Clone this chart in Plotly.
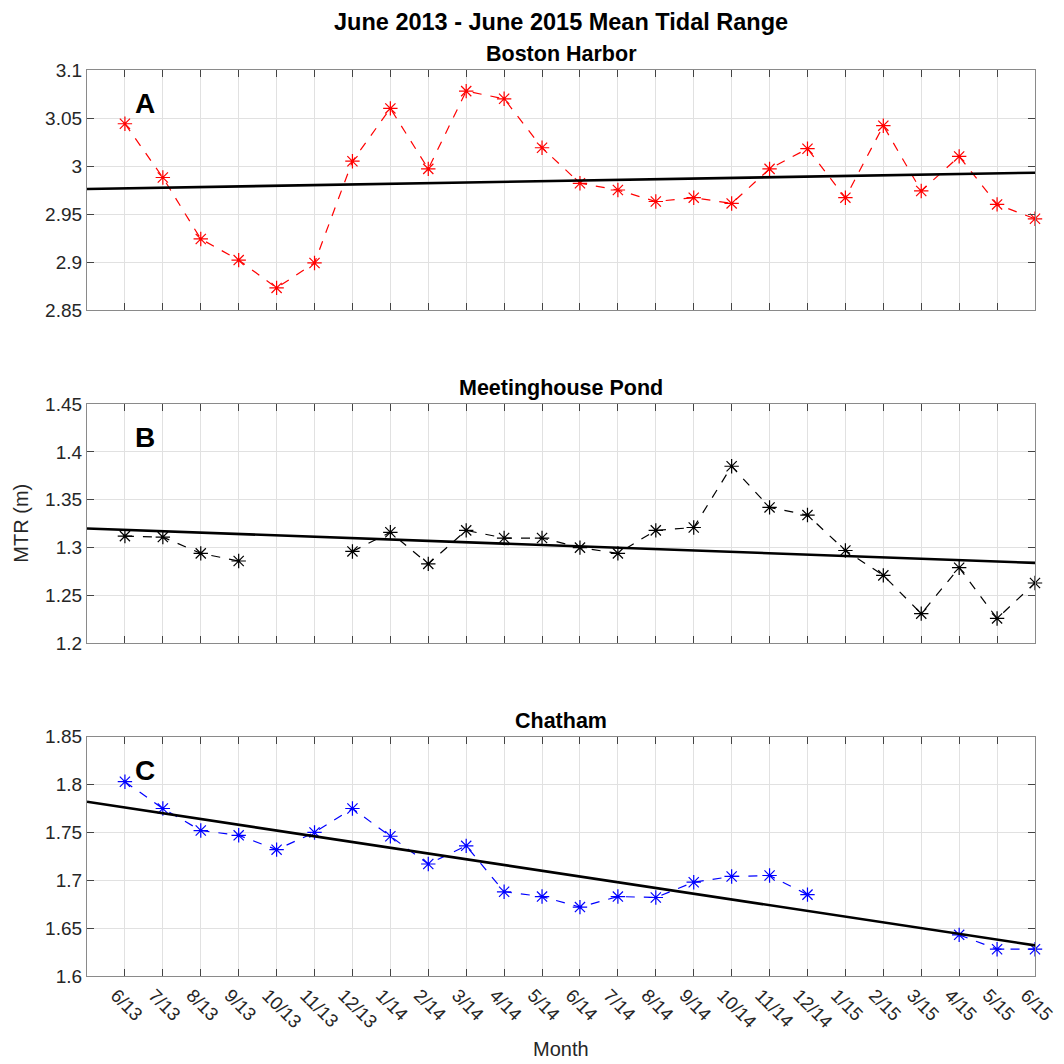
import plotly.graph_objects as go

months = ["6/13", "7/13", "8/13", "9/13", "10/13", "11/13", "12/13", "1/14", "2/14", "3/14",
          "4/14", "5/14", "6/14", "7/14", "8/14", "9/14", "10/14", "11/14", "12/14", "1/15",
          "2/15", "3/15", "4/15", "5/15", "6/15"]

boston = [3.044, 2.988, 2.924, 2.902, 2.873, 2.899, 3.005, 3.060, 2.997, 3.078,
          3.070, 3.019, 2.982, 2.975, 2.963, 2.967, 2.961, 2.997, 3.018, 2.967,
          3.042, 2.974, 3.010, 2.960, 2.945]

meeting = [1.312, 1.311, 1.294, 1.286, None, None, 1.296, 1.316, 1.283, 1.318,
           1.310, 1.310, 1.300, 1.294, 1.318, 1.321, 1.385, 1.342, 1.334, 1.297,
           1.271, 1.231, 1.279, 1.226, 1.263]

chatham = [1.803, 1.775, 1.752, 1.747, 1.732, 1.750, 1.775, 1.746, 1.717, 1.736,
           1.688, 1.683, 1.672, 1.683, 1.682, 1.698, 1.704, 1.705, 1.685, None,
           None, None, 1.643, 1.628, 1.628]

# trend line end values (at left and right edge of the axis)
trend_boston = [2.976, 2.993]
trend_meeting = [1.320, 1.284]
trend_chatham = [1.782, 1.632]

yticks_boston = [2.85, 2.9, 2.95, 3.0, 3.05, 3.1]
ytext_boston = ["2.85", "2.9", "2.95", "3", "3.05", "3.1"]
yticks_meeting = [1.2, 1.25, 1.3, 1.35, 1.4, 1.45]
ytext_meeting = ["1.2", "1.25", "1.3", "1.35", "1.4", "1.45"]
yticks_chatham = [1.6, 1.65, 1.7, 1.75, 1.8, 1.85]
ytext_chatham = ["1.6", "1.65", "1.7", "1.75", "1.8", "1.85"]

xpos = list(range(1, len(months) + 1))
xedges = [0, len(months)]

panels = [
    ("Boston Harbor", "A", boston, trend_boston, "#ff0000", yticks_boston, ytext_boston, [0.7351, 1.0]),
    ("Meetinghouse Pond", "B", meeting, trend_meeting, "#000000", yticks_meeting, ytext_meeting, [0.3672, 0.6313]),
    ("Chatham", "C", chatham, trend_chatham, "#0000ff", yticks_chatham, ytext_chatham, [0.0, 0.2641]),
]

FONT = "Liberation Sans, Arial, sans-serif"
TICKC = "#262626"
fig = go.Figure()
annotations = []
layout = {}
for i, (title, letter, vals, trend, col, yt, ytt, dom) in enumerate(panels):
    n = i + 1
    xa = "x" if n == 1 else f"x{n}"
    ya = "y" if n == 1 else f"y{n}"
    fig.add_trace(go.Scatter(x=xpos, y=vals, mode="lines+markers", xaxis=xa, yaxis=ya,
                             line=dict(color=col, width=1.2, dash="dash"),
                             marker=dict(symbol="asterisk-open", size=12,
                                         line=dict(color=col, width=1.2)),
                             showlegend=False, cliponaxis=False))
    fig.add_trace(go.Scatter(x=xedges, y=trend, mode="lines", xaxis=xa, yaxis=ya,
                             line=dict(color="black", width=2.6), showlegend=False))
    xkey = "xaxis" if n == 1 else f"xaxis{n}"
    ykey = "yaxis" if n == 1 else f"yaxis{n}"
    layout[xkey] = dict(domain=[0, 1], anchor=ya, range=[0, len(months)], automargin=False,
                        tickmode="array", tickvals=xpos, ticktext=months,
                        showticklabels=(n == 3), tickangle=45, ticklabeloverflow="allow",
                        ticklabelshift=-9,
                        ticks="inside", ticklen=7, tickcolor="#444",
                        showline=True, mirror="ticks", linecolor="#8a8a8a", linewidth=1.3,
                        showgrid=True, gridcolor="#e1e1e1", gridwidth=1, zeroline=False,
                        tickfont=dict(family=FONT, size=18.5, color=TICKC))
    layout[ykey] = dict(domain=dom, anchor=xa, range=[yt[0], yt[-1]], automargin=False,
                        tickmode="array", tickvals=yt, ticktext=ytt,
                        ticks="inside", ticklen=7, tickcolor="#444",
                        showline=True, mirror="ticks", linecolor="#8a8a8a", linewidth=1.3,
                        showgrid=True, gridcolor="#e1e1e1", gridwidth=1, zeroline=False,
                        tickfont=dict(family=FONT, size=19, color=TICKC))
    xd = "x domain" if n == 1 else f"x{n} domain"
    yd = "y domain" if n == 1 else f"y{n} domain"
    annotations.append(dict(text=f"<b>{title}</b>", xref=xd, yref=yd,
                            x=0.5, y=1.0, xanchor="center", yanchor="bottom", yshift=2, showarrow=False,
                            font=dict(family=FONT, size=21.5, color="black")))
    annotations.append(dict(text=f"<b>{letter}</b>", xref=xd, yref=yd,
                            x=0.061, y=0.86, xanchor="center", yanchor="middle", showarrow=False,
                            font=dict(family=FONT, size=28, color="black")))

annotations.append(dict(text="<b>June 2013 - June 2015 Mean Tidal Range</b>", xref="paper", yref="paper",
                        x=0.5, y=1.0, xanchor="center", yanchor="middle", yshift=48, showarrow=False,
                        font=dict(family=FONT, size=23.5, color="black")))
annotations.append(dict(text="MTR (m)", xref="paper", yref="paper", x=0, y=0.4993, xshift=-66,
                        xanchor="center", yanchor="middle", textangle=-90, showarrow=False,
                        font=dict(family=FONT, size=20, color=TICKC)))
annotations.append(dict(text="Month", xref="paper", yref="paper", x=0.5, y=0, yshift=-73,
                        xanchor="center", yanchor="middle", showarrow=False,
                        font=dict(family=FONT, size=20, color=TICKC)))

fig.update_layout(**layout)
# page body has an 8px margin, so the figure is 1056 px and margins are shifted by 8 px
fig.update_layout(width=1056, height=1056, margin=dict(l=79, r=29, t=62, b=88, autoexpand=False),
                  plot_bgcolor="white", paper_bgcolor="white", annotations=annotations)
fig.write_html("out.html")
